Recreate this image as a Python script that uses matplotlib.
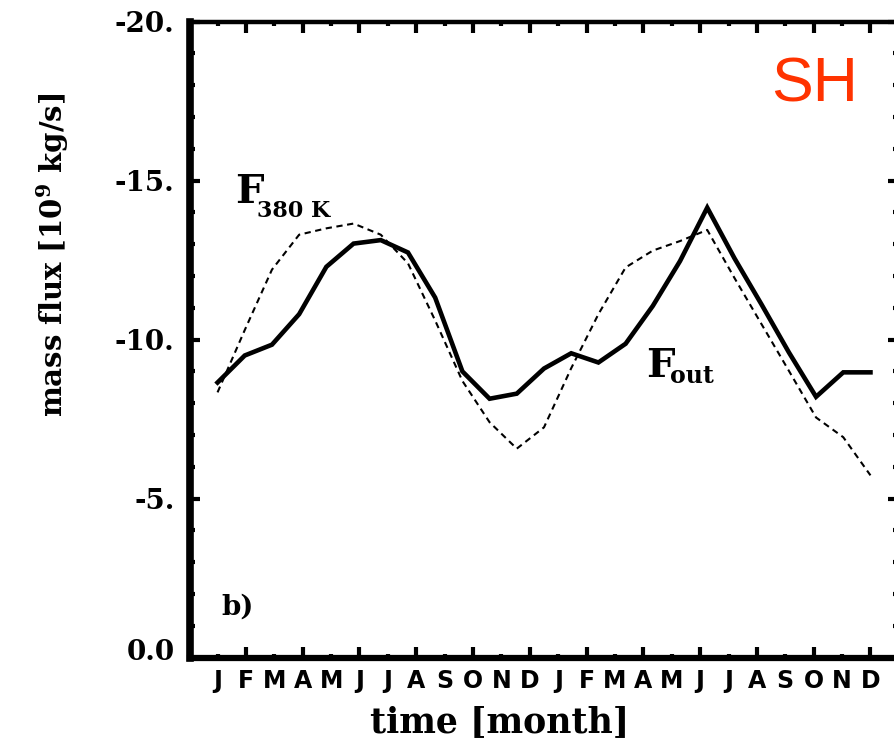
import numpy as np
import matplotlib
matplotlib.use("Agg")
import matplotlib.pyplot as plt
import matplotlib.transforms as mtransforms

plt.rcParams['mathtext.fontset'] = 'custom'
plt.rcParams['mathtext.rm'] = 'DejaVu Serif:bold'
plt.rcParams['mathtext.bf'] = 'DejaVu Serif:bold'
plt.rcParams['mathtext.it'] = 'DejaVu Serif:bold'

# ---- data ----
months = ["J", "F", "M", "A", "M", "J", "J", "A", "S", "O", "N", "D",
          "J", "F", "M", "A", "M", "J", "J", "A", "S", "O", "N", "D"]
# 25 equally spaced samples spanning the first January to the last December
time_months = np.linspace(0, 23, 25)
f_out = [-8.65, -9.5, -9.84, -10.8, -12.29, -13.02, -13.13, -12.74, -11.32,
         -9.0, -8.14, -8.3, -9.09, -9.57, -9.28, -9.87, -11.06, -12.47,
         -14.15, -12.56, -11.1, -9.6, -8.2, -8.97, -8.97]
f_380k = [-8.34, -10.3, -12.2, -13.3, -13.5, -13.65, -13.3, -12.4, -10.6,
          -8.7, -7.4, -6.57, -7.24, -9.1, -10.8, -12.27, -12.8, -13.1,
          -13.45, -11.94, -10.48, -9.02, -7.55, -6.93, -5.73]
y_ticks = [-20, -15, -10, -5, 0]
y_ticklabels = ["-20.", "-15.", "-10.", "-5.", "0.0"]

W, H = 894, 745
fig = plt.figure(figsize=(W / 100, H / 100), dpi=100)
ax_l, ax_r, ax_t, ax_b = 190, 898, 21.7, 657.5
ax = fig.add_axes([ax_l / W, 1 - ax_b / H, (ax_r - ax_l) / W, (ax_b - ax_t) / H])

ax.plot(time_months, f_380k, color='black', lw=1.5, dashes=(3.0, 2.2))
ax.plot(time_months, f_out, color='black', lw=3.3, solid_joinstyle='miter')

ax.set_xlim(-0.97, 23.97)
ax.set_ylim(0, -20)

# x ticks: long ticks on even months, short on odd months
idx = np.arange(len(months))
ax.set_xticks(idx[1::2], [months[i] for i in idx[1::2]])
ax.set_xticks(idx[0::2], [months[i] for i in idx[0::2]], minor=True)
ax.set_yticks(y_ticks, y_ticklabels)
ax.set_yticks(np.arange(-20, 1, 1), minor=True)

ax.tick_params(axis='x', which='both', direction='in', top=True, bottom=True,
               width=3, pad=8, labelsize=17)
ax.tick_params(axis='x', which='major', length=8)
ax.tick_params(axis='x', which='minor', length=3)
ax.tick_params(axis='y', which='both', direction='in', left=True, right=True,
               width=3, pad=11, labelsize=20)
ax.tick_params(axis='y', which='major', length=7.5)
ax.tick_params(axis='y', which='minor', length=3.5)
for lab in ax.get_xticklabels(which='both'):
    lab.set_fontfamily('DejaVu Sans')
    lab.set_fontweight('bold')
ylabs = ax.get_yticklabels()
for lab in ylabs:
    lab.set_fontfamily('DejaVu Serif')
    lab.set_fontweight('bold')
# the "0.0" label sits slightly above its tick in the original
ylabs[-1].set_transform(ylabs[-1].get_transform() +
                        mtransforms.ScaledTranslation(0, 8 / 100, fig.dpi_scale_trans))

ax.spines['left'].set_linewidth(5.5)
ax.spines['bottom'].set_linewidth(4.5)
ax.spines['top'].set_linewidth(3.2)
ax.spines['right'].set_linewidth(1.0)

def axpos(px, py):
    return ((px - ax_l) / (ax_r - ax_l), (ax_b - py) / (ax_b - ax_t))

serif = dict(family='DejaVu Serif', weight='bold', color='black')
ax.text(*axpos(235, 203), "F", fontsize=29, va='baseline', ha='left', transform=ax.transAxes, **serif)
ax.text(*axpos(257, 217), "380 K", fontsize=16, va='baseline', ha='left', transform=ax.transAxes, **serif)
ax.text(*axpos(646, 377), "F", fontsize=29, va='baseline', ha='left', transform=ax.transAxes, **serif)
ax.text(*axpos(670, 383), "out", fontsize=17, va='baseline', ha='left', transform=ax.transAxes, **serif)
ax.text(*axpos(221, 615), "b)", fontsize=20, va='baseline', ha='left', transform=ax.transAxes, **serif)

fig.text(500 / W, 1 - 722 / H, "time [month]", fontsize=25, ha='center', va='center', **serif)
fig.text(53 / W, 1 - 255 / H, r"mass flux [10$^{9}$ kg/s]", fontsize=21, rotation=90,
         ha='center', va='center', **serif)
fig.text(858 / W, 1 - 102 / H, "SH", fontsize=45, family='Liberation Sans', color='#ff3300',
         ha='right', va='baseline')

fig.savefig("out.png", dpi=100)
